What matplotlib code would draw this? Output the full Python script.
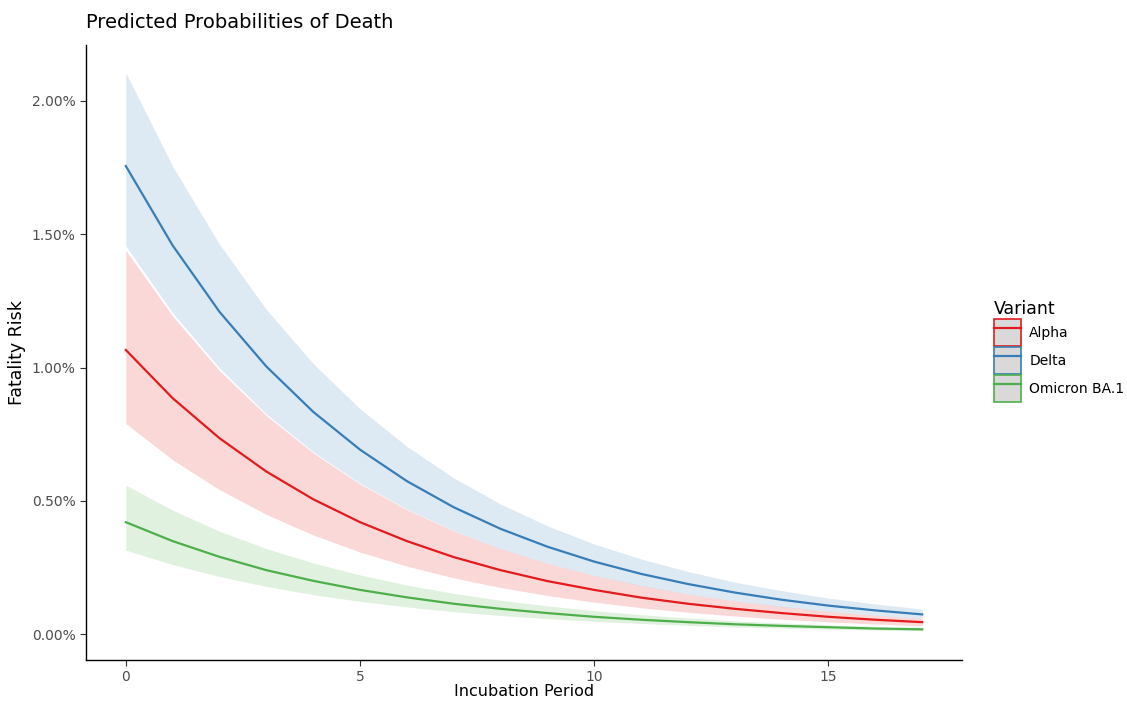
import numpy as np
import matplotlib
matplotlib.use("Agg")
import matplotlib.pyplot as plt
from matplotlib.patches import Patch
from matplotlib.lines import Line2D
from matplotlib.ticker import FuncFormatter

# incubation period (days) and predicted fatality risk (%)
incubation = list(range(18))

alpha_fit = [1.066, 0.885, 0.735, 0.610, 0.506, 0.420, 0.349, 0.289, 0.240,
             0.199, 0.166, 0.137, 0.114, 0.095, 0.079, 0.065, 0.054, 0.045]
alpha_lo = [0.790, 0.654, 0.542, 0.449, 0.372, 0.308, 0.255, 0.211, 0.175,
            0.145, 0.120, 0.099, 0.082, 0.068, 0.056, 0.046, 0.038, 0.032]
alpha_hi = [1.440, 1.193, 0.989, 0.820, 0.680, 0.563, 0.467, 0.387, 0.321,
            0.266, 0.220, 0.183, 0.151, 0.125, 0.104, 0.086, 0.071, 0.059]

delta_fit = [1.756, 1.458, 1.209, 1.004, 0.834, 0.692, 0.574, 0.476, 0.395,
             0.328, 0.272, 0.226, 0.188, 0.156, 0.129, 0.107, 0.089, 0.074]
delta_lo = [1.456, 1.205, 0.998, 0.826, 0.684, 0.566, 0.469, 0.388, 0.321,
            0.266, 0.220, 0.182, 0.151, 0.125, 0.103, 0.086, 0.071, 0.059]
delta_hi = [2.105, 1.755, 1.462, 1.218, 1.015, 0.845, 0.704, 0.586, 0.488,
            0.406, 0.338, 0.282, 0.235, 0.195, 0.163, 0.135, 0.113, 0.094]

omicron_fit = [0.420, 0.349, 0.290, 0.240, 0.200, 0.166, 0.138, 0.114, 0.095,
               0.079, 0.065, 0.054, 0.045, 0.037, 0.031, 0.026, 0.021, 0.018]
omicron_lo = [0.315, 0.261, 0.216, 0.179, 0.148, 0.123, 0.102, 0.084, 0.070,
              0.058, 0.048, 0.040, 0.033, 0.027, 0.023, 0.019, 0.015, 0.013]
omicron_hi = [0.559, 0.465, 0.386, 0.321, 0.267, 0.222, 0.184, 0.153, 0.127,
              0.106, 0.088, 0.073, 0.061, 0.050, 0.042, 0.035, 0.029, 0.024]

variants = ["Alpha", "Delta", "Omicron BA.1"]
fits = [alpha_fit, delta_fit, omicron_fit]
lows = [alpha_lo, delta_lo, omicron_lo]
highs = [alpha_hi, delta_hi, omicron_hi]
colors = ["#E41A1C", "#377EB8", "#4DAF4A"]

fig = plt.figure(figsize=(11.27, 7.01), dpi=100)
ax = fig.add_axes([86/1127, 41/701, 876/1127, 615/701])

for lo, hi, c in zip(lows, highs, colors):
    ax.fill_between(incubation, lo, hi, color=c, alpha=0.17, linewidth=0)
for fit, c in zip(fits, colors):
    ax.plot(incubation, fit, color=c, lw=1.6)

ax.set_xlim(-0.85, 17.85)
ax.set_ylim(-0.097, 2.21)
ax.set_xticks([0, 5, 10, 15])
ax.set_yticks([0, 0.5, 1.0, 1.5, 2.0])
ax.yaxis.set_major_formatter(FuncFormatter(lambda v, p: f"{v:.2f}%"))
ax.tick_params(colors="#333333", labelcolor="#4D4D4D", labelsize=10, length=4, width=0.8)
ax.tick_params(axis="x", pad=3)
for s in ["top", "right"]:
    ax.spines[s].set_visible(False)
for s in ["left", "bottom"]:
    ax.spines[s].set_linewidth(1.0)

ax.set_xlabel("Incubation Period", fontsize=11.5, labelpad=0)
ax.set_ylabel("Fatality Risk", fontsize=12.5, labelpad=4)
fig.text(86/1127, 1 - 22/701, "Predicted Probabilities of Death", fontsize=14,
         ha="left", va="center")

handles = [(Patch(facecolor="#D9D9D9", edgecolor=c, linewidth=1.2),
            Line2D([], [], color=c, lw=1.6)) for c in colors]
leg = fig.legend(handles, variants, loc="upper left",
                 bbox_to_anchor=(987/1127, 1 - 293/701), frameon=False,
                 title="Variant", title_fontsize=12.5, fontsize=10,
                 handlelength=1.95, handleheight=2.6, labelspacing=0.08,
                 handletextpad=0.6, borderpad=0, alignment="left")

fig.savefig("out.png", dpi=100)
